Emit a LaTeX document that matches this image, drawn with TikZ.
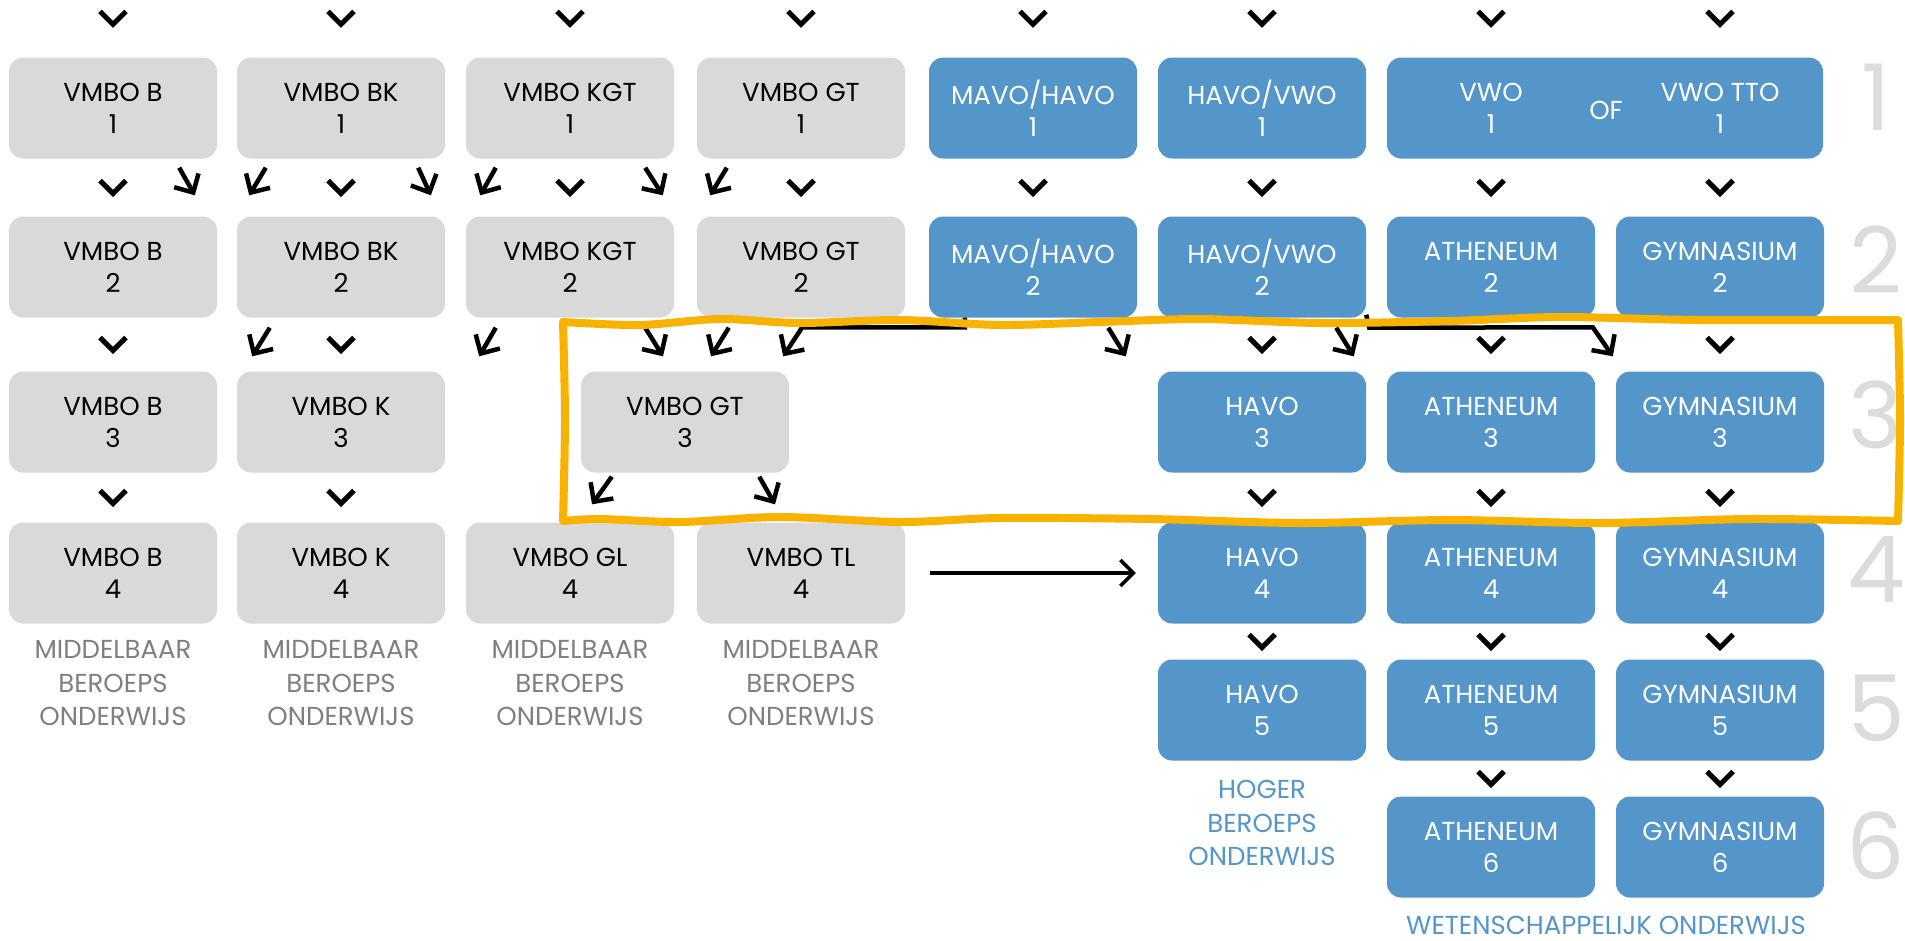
\documentclass[tikz,border=0pt]{standalone}
\usepackage{fontspec}
\setmainfont{Poppins}
\usetikzlibrary{arrows.meta}
\usetikzlibrary{calc}
\usetikzlibrary{positioning}

\definecolor{vakgrijs}{HTML}{D9D9D9}
\definecolor{vakblauw}{HTML}{5496C9}
\definecolor{markeergeel}{HTML}{F8B200}
\definecolor{tekstgrijs}{HTML}{7F7F7F}
\definecolor{jaargrijs}{HTML}{DCDCDC}

\begin{document}
\begin{tikzpicture}[x=1pt, y=-1pt,
  vak/.style={rounded corners=14pt, minimum width=208pt, minimum height=101pt,
    inner sep=0pt, align=center, text depth=0pt, font=\fontsize{26}{32}\selectfont},
  grijs/.style={vak, fill=vakgrijs, text=black},
  blauw/.style={vak, fill=vakblauw, text=white},
  wit/.style={inner sep=0pt, align=center, text depth=0pt, text=white, font=\fontsize{26}{32}\selectfont},
  uitleg/.style={inner sep=0pt, align=center, text depth=0pt, font=\fontsize{26}{33.5}\selectfont},
  jaar/.style={inner sep=0pt, text=jaargrijs, font=\fontsize{92}{92}\selectfont},
  vpijl/.pic={\draw[line width=5pt, line join=miter] (-13,-7) -- (0,6) -- (13,-7);},
  diag/.style={line width=4.5pt, line join=miter, -{Straight Barb[length=14pt, width=28pt]}},
  overstap/.style={line width=3.5pt, -{Straight Barb[length=13pt, width=26pt]}},
  markeer/.style={draw=markeergeel, line width=8pt, line join=round}]
  \useasboundingbox (0,0) rectangle (1905,940);

  % leerjaar 1
  \node[grijs] (b1) at (113,108) {VMBO B\\1};
  \node[grijs] (bk1) at (341,108) {VMBO BK\\1};
  \node[grijs] (kgt1) at (570,108) {VMBO KGT\\1};
  \node[grijs] (gt1) at (801,108) {VMBO GT\\1};
  \node[blauw] (mh1) at (1033,108) {MAVO/HAVO\\1};
  \node[blauw] (hv1) at (1262,108) {HAVO/VWO\\1};
  \node[blauw, minimum width=436pt] (vwo1) at (1605,108) {};
  \node[wit] (vwo) at (1491,108) {VWO\\1};
  \node[wit] (of) at (1606,110) {OF};
  \node[wit] (tto) at (1720,108) {VWO TTO\\1};

  % leerjaar 2
  \node[grijs] (b2) at (113,267) {VMBO B\\2};
  \node[grijs] (bk2) at (341,267) {VMBO BK\\2};
  \node[grijs] (kgt2) at (570,267) {VMBO KGT\\2};
  \node[grijs] (gt2) at (801,267) {VMBO GT\\2};
  \node[blauw] (mh2) at (1033,267) {MAVO/HAVO\\2};
  \node[blauw] (hv2) at (1262,267) {HAVO/VWO\\2};
  \node[blauw] (ath2) at (1491,267) {ATHENEUM\\2};
  \node[blauw] (gym2) at (1720,267) {GYMNASIUM\\2};

  % leerjaar 3
  \node[grijs] (b3) at (113,422) {VMBO B\\3};
  \node[grijs] (k3) at (341,422) {VMBO K\\3};
  \node[grijs] (gt3) at (685,422) {VMBO GT\\3};
  \node[blauw] (havo3) at (1262,422) {HAVO\\3};
  \node[blauw] (ath3) at (1491,422) {ATHENEUM\\3};
  \node[blauw] (gym3) at (1720,422) {GYMNASIUM\\3};

  % leerjaar 4
  \node[grijs] (b4) at (113,573) {VMBO B\\4};
  \node[grijs] (k4) at (341,573) {VMBO K\\4};
  \node[grijs] (gl4) at (570,573) {VMBO GL\\4};
  \node[grijs] (tl4) at (801,573) {VMBO TL\\4};
  \node[blauw] (havo4) at (1262,573) {HAVO\\4};
  \node[blauw] (ath4) at (1491,573) {ATHENEUM\\4};
  \node[blauw] (gym4) at (1720,573) {GYMNASIUM\\4};

  % leerjaar 5 en 6
  \node[blauw] (havo5) at (1262,710) {HAVO\\5};
  \node[blauw] (ath5) at (1491,710) {ATHENEUM\\5};
  \node[blauw] (gym5) at (1720,710) {GYMNASIUM\\5};
  \node[blauw] (ath6) at (1491,847) {ATHENEUM\\6};
  \node[blauw] (gym6) at (1720,847) {GYMNASIUM\\6};

  % uitleg onder de kolommen
  \node[uitleg, text=tekstgrijs] (mbo1) at (113,683) {MIDDELBAAR\\BEROEPS\\ONDERWIJS};
  \node[uitleg, text=tekstgrijs] (mbo2) at (341,683) {MIDDELBAAR\\BEROEPS\\ONDERWIJS};
  \node[uitleg, text=tekstgrijs] (mbo3) at (570,683) {MIDDELBAAR\\BEROEPS\\ONDERWIJS};
  \node[uitleg, text=tekstgrijs] (mbo4) at (801,683) {MIDDELBAAR\\BEROEPS\\ONDERWIJS};
  \node[uitleg, text=vakblauw] (hbo) at (1262,823) {HOGER\\BEROEPS\\ONDERWIJS};
  \node[uitleg, text=vakblauw] (wo) at (1606,925) {WETENSCHAPPELIJK ONDERWIJS};

  % jaartallen rechts
  \node[jaar] (j1) at (1876,97) {1};
  \node[jaar] (j2) at (1876,260) {2};
  \node[jaar] (j3) at (1876,415) {3};
  \node[jaar] (j4) at (1876,570) {4};
  \node[jaar] (j5) at (1876,708) {5};
  \node[jaar] (j6) at (1876,846) {6};

  % pijltjes boven
  \pic at ($(b1.north)+(0,-39)$) {vpijl};
  \pic at ($(bk1.north)+(0,-39)$) {vpijl};
  \pic at ($(kgt1.north)+(0,-39)$) {vpijl};
  \pic at ($(gt1.north)+(0,-39)$) {vpijl};
  \pic at ($(mh1.north)+(0,-39)$) {vpijl};
  \pic at ($(hv1.north)+(0,-39)$) {vpijl};
  \pic at ($(vwo1.north -| ath2)+(0,-39)$) {vpijl};
  \pic at ($(vwo1.north -| gym2)+(0,-39)$) {vpijl};

  % pijltjes 1 -> 2
  \pic at ($(b1.south)!.5!(b2.north)$) {vpijl};
  \pic at ($(bk1.south)!.5!(bk2.north)$) {vpijl};
  \pic at ($(kgt1.south)!.5!(kgt2.north)$) {vpijl};
  \pic at ($(gt1.south)!.5!(gt2.north)$) {vpijl};
  \pic at ($(mh1.south)!.5!(mh2.north)$) {vpijl};
  \pic at ($(hv1.south)!.5!(hv2.north)$) {vpijl};
  \pic at ($(vwo1.south -| ath2)!.5!(ath2.north)$) {vpijl};
  \pic at ($(vwo1.south -| gym2)!.5!(gym2.north)$) {vpijl};
  \draw[diag] ($(b1.south east)+(-38,9)$) -- ($(bk2.north west)+(-42,-21)$);
  \draw[diag] ($(bk1.south west)+(29,9)$) -- ($(b2.north east)+(32,-21)$);
  \draw[diag] ($(bk1.south east)+(-27,9)$) -- ($(kgt2.north west)+(-35,-21)$);
  \draw[diag] ($(kgt1.south west)+(30,9)$) -- ($(bk2.north east)+(35,-21)$);
  \draw[diag] ($(kgt1.south east)+(-29,9)$) -- ($(gt2.north west)+(-34,-21)$);
  \draw[diag] ($(gt1.south west)+(30,9)$) -- ($(kgt2.north east)+(36,-21)$);

  % pijltjes 2 -> 3
  \pic at ($(b2.south)!.5!(b3.north)$) {vpijl};
  \pic at ($(bk2.south)!.5!(k3.north)$) {vpijl};
  \pic at ($(hv2.south)!.5!(havo3.north)$) {vpijl};
  \pic at ($(ath2.south)!.5!(ath3.north)$) {vpijl};
  \pic at ($(gym2.south)!.5!(gym3.north)$) {vpijl};
  \draw[diag] ($(bk2.south west)+(33,10)$) -- ($(b3.north east)+(35,-15)$);
  \draw[diag] ($(kgt2.south west)+(30,10)$) -- ($(k3.north east)+(34,-15)$);
  \draw[diag] ($(kgt2.south east)+(-29,10)$) -- ($(gt3.north)+(-22,-15)$);
  \draw[diag] ($(gt2.south west)+(32,10)$) -- ($(gt3.north)+(26,-15)$);
  \draw[diag] ($(mh2.south west)+(36,0)$) |- ($(gt3.north east)+(13,-44)$) -- ($(gt3.north east)+(-6,-15)$);
  \draw[diag] ($(mh2.south east)+(-29,10)$) -- ($(havo3.north west)+(-32,-15)$);
  \draw[diag] ($(hv2.south east)+(-30,10)$) -- ($(ath3.north west)+(-33,-15)$);
  \draw[diag] ($(hv2.south east)+(0,-3)$) -- ($(hv2.south east)+(3,10)$) -- ($(gym3.north west)+(-23,-44)$) -- ($(gym3.north west)+(-3,-15)$);

  % pijltjes 3 -> 4
  \pic at ($(b3.south)!.5!(b4.north)$) {vpijl};
  \pic at ($(k3.south)!.5!(k4.north)$) {vpijl};
  \pic at ($(havo3.south)!.5!(havo4.north)$) {vpijl};
  \pic at ($(ath3.south)!.5!(ath4.north)$) {vpijl};
  \pic at ($(gym3.south)!.5!(gym4.north)$) {vpijl};
  \draw[diag] ($(gt3.south west)+(31,4)$) -- ($(gl4.north)+(22,-18)$);
  \draw[diag] ($(gt3.south east)+(-30,4)$) -- ($(tl4.north)+(-26,-18)$);
  \draw[overstap] ($(tl4.east)+(25,0)$) -- ($(havo4.west)+(-22,0)$);

  % pijltjes 4 -> 5 -> 6
  \pic at ($(havo4.south)!.5!(havo5.north)$) {vpijl};
  \pic at ($(ath4.south)!.5!(ath5.north)$) {vpijl};
  \pic at ($(gym4.south)!.5!(gym5.north)$) {vpijl};
  \pic at ($(ath5.south)!.5!(ath6.north)$) {vpijl};
  \pic at ($(gym5.south)!.5!(gym6.north)$) {vpijl};

  % gele markering
  \draw[markeer] plot[smooth] coordinates {(563,521) (565,420) (563,322)}
    -- plot[smooth] coordinates {(563,322) (640,325) (720,319) (800,323) (900,320) (1000,325) (1100,322) (1200,319) (1320,323) (1450,321) (1560,317) (1700,320) (1898,320)}
    -- plot[smooth] coordinates {(1898,320) (1900,420) (1898,521)}
    -- plot[smooth] coordinates {(1898,521) (1750,519) (1600,523) (1450,520) (1300,523) (1150,519) (1000,518) (900,522) (780,517) (680,522) (600,519) (563,521)} -- cycle;
\end{tikzpicture}
\end{document}
